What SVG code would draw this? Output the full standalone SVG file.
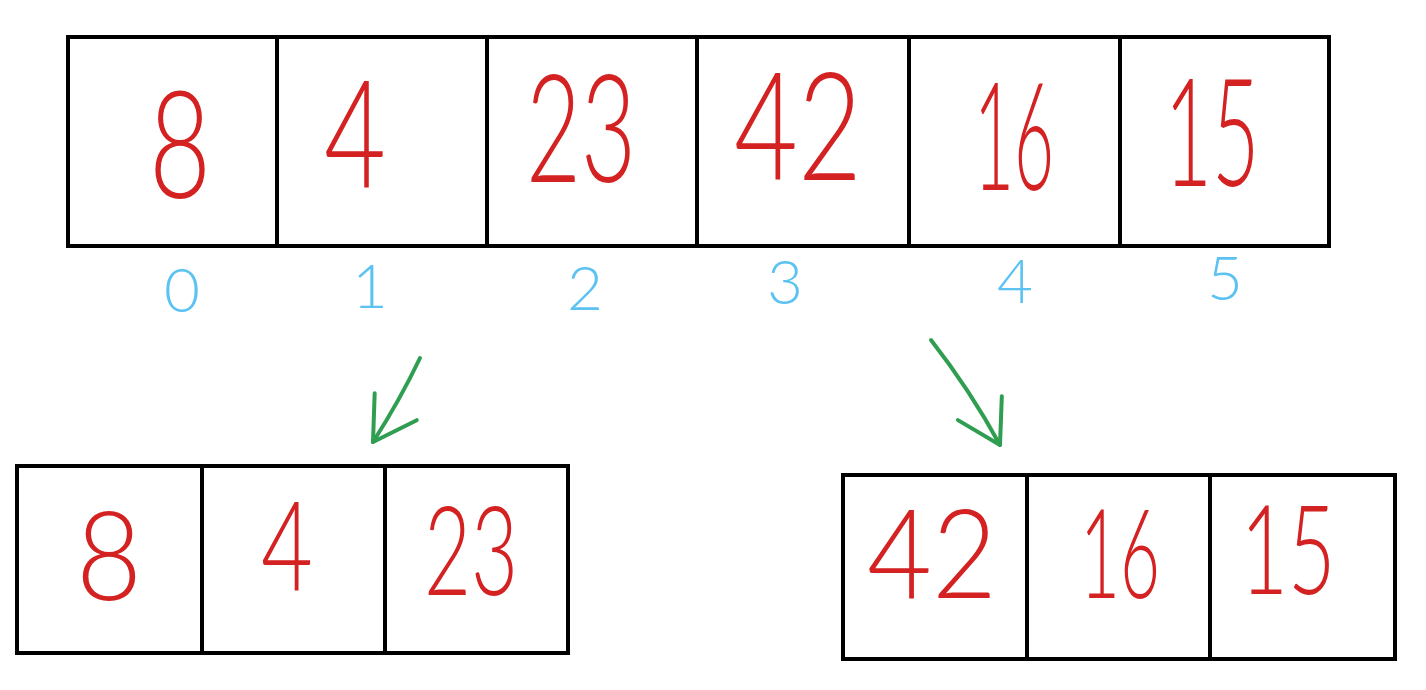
<svg xmlns="http://www.w3.org/2000/svg" width="1426" height="690" viewBox="0 0 1426 690">
<style>
.cell{fill:#fff;stroke:#000;stroke-width:4;stroke-linejoin:miter}
.val{fill:#d42121;font-family:Lato,"Liberation Sans",sans-serif;font-weight:300;text-anchor:middle}
.big{font-size:150px}
.small{font-size:125px}
.idx{fill:#5cc2f2;font-family:Lato,"Liberation Sans",sans-serif;font-weight:300;font-size:62px;text-anchor:middle}
.arrow{fill:none;stroke:#2f9e50;stroke-width:4;stroke-linecap:round;marker-end:url(#vhead)}
</style>
<defs>
<marker id="vhead" markerUnits="userSpaceOnUse" viewBox="-50 -30 56 60" refX="0" refY="0" markerWidth="56" markerHeight="60" orient="auto">
<path d="M-42,-25 L0,0 L-42,25" fill="none" stroke="#2f9e50" stroke-width="4" stroke-linecap="round" stroke-linejoin="round"/>
</marker>
</defs>
<rect width="1426" height="690" fill="#fff"/>
<g id="array-top">
<g id="top-0"><rect class="cell" x="68" y="37" width="209" height="209"/><text class="val big" x="180" y="198" textLength="62" lengthAdjust="spacingAndGlyphs">8</text><text class="idx" x="182" y="312">0</text></g>
<g id="top-1"><rect class="cell" x="277" y="37" width="210" height="209"/><text class="val big" x="355" y="188" textLength="62" lengthAdjust="spacingAndGlyphs">4</text><text class="idx" x="370" y="308">1</text></g>
<g id="top-2"><rect class="cell" x="487" y="37" width="210" height="209"/><text class="val big" x="581" y="182" textLength="110" lengthAdjust="spacingAndGlyphs">23</text><text class="idx" x="585" y="310">2</text></g>
<g id="top-3"><rect class="cell" x="697" y="37" width="212" height="209"/><text class="val big" x="798" y="180" textLength="128" lengthAdjust="spacingAndGlyphs">42</text><text class="idx" x="785" y="304">3</text></g>
<g id="top-4"><rect class="cell" x="909" y="37" width="211" height="209"/><text class="val big" x="1014" y="190" textLength="80" lengthAdjust="spacingAndGlyphs">16</text><text class="idx" x="1015" y="303">4</text></g>
<g id="top-5"><rect class="cell" x="1120" y="37" width="209" height="209"/><text class="val big" x="1212" y="186" textLength="95" lengthAdjust="spacingAndGlyphs">15</text><text class="idx" x="1225" y="300">5</text></g>
</g>
<g id="array-left">
<g id="left-0"><rect class="cell" x="17" y="466" width="185" height="187"/><text class="val small" x="109" y="600" textLength="66" lengthAdjust="spacingAndGlyphs">8</text></g>
<g id="left-1"><rect class="cell" x="202" y="466" width="183" height="187"/><text class="val small" x="287" y="590" textLength="52" lengthAdjust="spacingAndGlyphs">4</text></g>
<g id="left-2"><rect class="cell" x="385" y="466" width="183" height="187"/><text class="val small" x="471" y="595" textLength="94" lengthAdjust="spacingAndGlyphs">23</text></g>
</g>
<g id="array-right">
<g id="right-0"><rect class="cell" x="843" y="475" width="184" height="184"/><text class="val small" x="932" y="598" textLength="130" lengthAdjust="spacingAndGlyphs">42</text></g>
<g id="right-1"><rect class="cell" x="1027" y="475" width="183" height="184"/><text class="val small" x="1120" y="598" textLength="80" lengthAdjust="spacingAndGlyphs">16</text></g>
<g id="right-2"><rect class="cell" x="1210" y="475" width="185" height="184"/><text class="val small" x="1288" y="594" textLength="95" lengthAdjust="spacingAndGlyphs">15</text></g>
</g>
<g id="connectors">
<path class="arrow" d="M420,358 Q400,400 373,442"/>
<path class="arrow" d="M931,340 Q970,390 1000,445"/>
</g>
</svg>
